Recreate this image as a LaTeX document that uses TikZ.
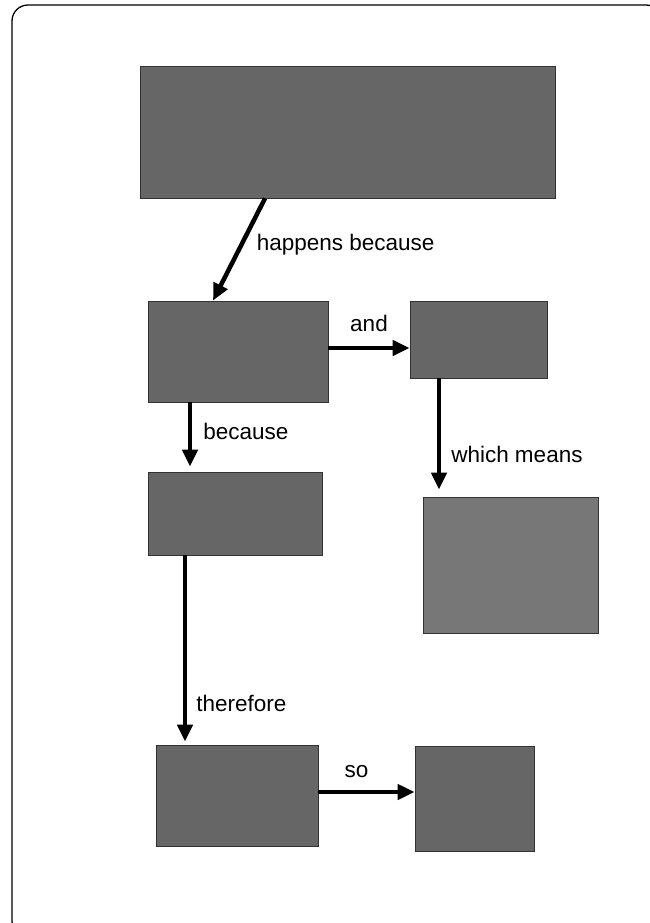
\documentclass[tikz,border=0pt]{standalone}
\usepackage{fontspec}
\setmainfont{Liberation Sans}
\usetikzlibrary{arrows.meta}
\definecolor{boxgray}{HTML}{666666}
\definecolor{boxlight}{HTML}{777777}
\definecolor{boxedge}{HTML}{333333}
\tikzset{
  box/.style={draw=boxedge, line width=0.8pt, fill=boxgray, inner sep=0pt},
  link/.style={line width=4.5pt, -{Triangle[length=17pt, width=15pt]}},
  lbl/.style={font=\fontsize{22.5}{27}\selectfont, inner sep=3pt}
}
\begin{document}
\begin{tikzpicture}[x=1pt, y=-1pt]
                \useasboundingbox (0,0) rectangle (650,923);
                % frame
                \draw[line width=1.3pt, rounded corners=16pt] (12,5) rectangle (662,937);
                % boxes
                \node[box, minimum width=415pt, minimum height=132pt] (top) at (347.5,132) {};
                \node[box, minimum width=180pt, minimum height=101pt] (cause) at (238,351.5) {};
                \node[box, minimum width=137pt, minimum height=77pt] (also) at (478.5,339.5) {};
                \node[box, minimum width=174pt, minimum height=83pt] (reason) at (235,513.5) {};
                \node[box, fill=boxlight, minimum width=175pt, minimum height=136pt] (means) at (510.5,565) {};
                \node[box, minimum width=162pt, minimum height=101pt] (result) at (237,795.5) {};
                \node[box, minimum width=119pt, minimum height=105pt] (so) at (474.5,798.5) {};
                % links
                \draw[link] ([xshift=-82.5pt]top.south) -- ([xshift=-25pt]cause.north)
                    node[lbl, pos=0.45, anchor=west, xshift=10pt] {happens because};
                \draw[link] ([yshift=3.5pt]cause.east) -- ([yshift=-8.5pt]also.west)
                    node[lbl, midway, above=11pt] {and};
                \draw[link, shorten >=5pt] ([xshift=-48pt]cause.south) -- ([xshift=-48pt]cause.south |- reason.north)
                    node[lbl, pos=0.42, right=8pt] {because};
                \draw[link, shorten >=7pt] ([xshift=-39.5pt]also.south) -- ([xshift=-39.5pt]also.south |- means.north)
                    node[lbl, pos=0.64, right=7pt] {which means};
                \draw[link, shorten >=3pt] ([xshift=-50pt]reason.south) -- ([xshift=-50pt]reason.south |- result.north)
                    node[lbl, pos=0.78, right=6pt] {therefore};
                \draw[link] ([yshift=3.5pt]result.east) -- ([yshift=6.5pt]so.west)
                    node[lbl, midway, above=9pt, xshift=-10pt] {so};
\end{tikzpicture}
\end{document}
